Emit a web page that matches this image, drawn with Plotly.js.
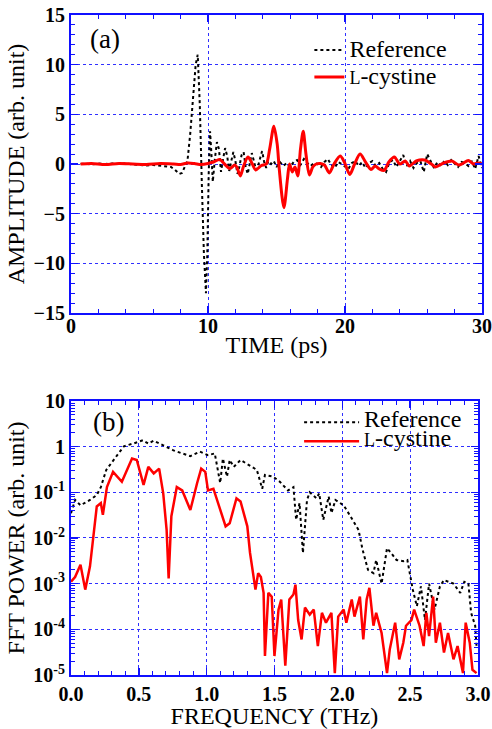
<!DOCTYPE html>
<html><head><meta charset="utf-8">
<script src="https://cdn.plot.ly/plotly-3.0.1.min.js"></script>
<style>html,body{margin:0;padding:0;background:#fff}#chart{width:492px;height:729px}</style>
</head><body><div id="chart"></div>
<script>
// ---- Panel (a): time-domain waveforms ----
const timeRef = [0.7,1,1.5,2,2.5,3,3.5,4,4.5,5,5.5,6,6.5,7,7.3,7.6,7.9,8.1,8.3,8.5,8.7,8.9,9.1,9.25,9.4,9.55,9.7,9.85,9.95,10.05,10.15,10.25,10.35,10.5,10.65,10.8,10.95,11.1,11.25,11.4,11.55,11.7,11.85,12.0,12.15,12.3,12.45,12.6,12.75,12.9,13.05,13.2,13.35,13.5,13.65,13.8,13.95,14.1,14.25,14.4,14.6,14.8,15.0,15.25,15.5,15.75,16.0,16.25,16.5,16.75,17.0,17.25,17.5,17.75,18.0,18.25,18.5,18.75,19.0,19.25,19.5,19.75,20.0,20.25,20.5,20.75,21.0,21.25,21.5,21.75,22.0,22.25,22.5,22.75,23.0,23.25,23.5,23.75,24.0,24.25,24.5,24.75,25.0,25.25,25.5,25.75,26.0,26.25,26.5,26.75,27.0,27.25,27.5,27.75,28.0,28.25,28.5,28.75,29.0,29.25,29.5,29.75,30.0];
const ampRef = [0,0.05,-0.05,0.05,0,0.05,0,0.05,-0.05,-0.1,-0.15,-0.1,-0.15,-0.2,-0.3,-0.6,-1.0,-0.9,-0.3,0.3,3,7,10,11,6,-2,-9,-13,-9,-1,3.3,1,-1.8,0.5,2.2,1.5,-0.8,0.5,1.6,0.8,-0.7,0.3,1.2,0.3,-1.0,-0.2,0.9,1.2,-0.3,-1.0,0.2,1.1,0.3,-0.6,-0.2,0.6,1.3,0.2,-0.4,0.3,0,0.3,-0.3,0.2,-0.2,0.1,-0.3,0.2,0.4,-0.1,0.5,0.1,-0.2,0.1,0,-0.3,0.2,0.5,-0.1,-0.4,0.2,0,-0.3,-0.5,0.1,0.3,-0.2,0.2,-0.4,0.1,0.3,-0.2,0.1,-0.5,-0.8,0.2,0.4,-0.3,0.3,0.9,-0.2,0.3,-0.4,0.1,0.3,-0.8,1.0,0.3,-0.4,0.2,-0.2,0.3,-0.1,0.4,0,-0.3,0.2,0.1,-0.2,0.3,-0.5,0.8,-0.4];
const timeCys = [0.7,1.5,2.5,3.5,4.5,5.5,6.5,7.5,8,8.5,9,9.5,10,10.4,10.85,11.2,11.6,11.95,12.1,12.36,12.6,12.92,13.2,13.48,13.9,14.25,14.5,14.81,15.05,15.2,15.54,15.8,15.95,16.15,16.35,16.55,16.75,16.95,17.15,17.4,17.65,17.9,18.2,18.5,18.85,19.2,19.65,19.95,20.35,20.7,21.1,21.5,21.9,22.2,22.5,22.85,23.2,23.6,24.0,24.4,24.7,25.2,25.8,26.3,26.6,27.2,27.8,28.3,28.6,29.0,29.4,29.7,30];
const ampCys = [0,0.05,-0.05,0.05,0,-0.05,0.05,0,-0.05,0.1,0.05,-0.05,0.05,0.2,0.45,0,-0.45,-0.1,-0.3,-1.2,-0.2,0.7,0.1,-0.6,-0.15,0,1.5,3.8,2.0,-0.5,-4.4,-1.5,0,-0.8,-0.3,-1.2,1.5,3.3,1.0,-1.1,-0.3,0,0.05,-0.1,-0.9,0,0.8,0.2,-1.05,0,1.0,0.2,-0.55,-0.2,-0.5,-0.65,0.2,0.7,0,0.3,-0.2,0.3,0.4,0,-0.3,0.1,0.3,-0.1,0.05,0.35,0,0.1,0];

// ---- Panel (b): FFT power spectra ----
const freqRef = [0,0.03,0.07,0.14,0.19,0.22,0.26,0.33,0.39,0.46,0.53,0.57,0.61,0.68,0.755,0.82,0.88,0.95,1.01,1.06,1.10,1.12,1.15,1.17,1.20,1.25,1.31,1.37,1.41,1.43,1.49,1.54,1.60,1.64,1.66,1.685,1.71,1.74,1.76,1.81,1.83,1.86,1.90,1.92,1.95,2.01,2.06,2.12,2.15,2.19,2.23,2.25,2.29,2.33,2.36,2.40,2.45,2.48,2.52,2.55,2.58,2.61,2.64,2.68,2.72,2.75,2.82,2.87,2.90,2.93,2.95,2.98,2.99];
const powRef = [3.5e-2,6.8e-2,5.2e-2,6.8e-2,8.7e-2,0.13,0.31,0.60,1.02,1.17,1.38,1.17,1.35,1.07,0.83,0.71,0.62,0.78,0.65,0.71,0.16,0.55,0.22,0.51,0.36,0.51,0.40,0.31,0.12,0.24,0.22,0.17,0.11,0.13,0.025,0.058,0.0047,0.068,0.10,0.074,0.095,0.025,0.081,0.035,0.068,0.052,0.030,0.015,0.0055,0.0020,0.0017,0.0033,0.0010,0.0060,0.0047,0.0033,0.0031,0.0033,7.4e-4,3.2e-4,8.7e-4,1.6e-4,1.0e-3,2.7e-4,8.7e-4,1.2e-3,1.0e-3,6.3e-4,1.1e-3,1.0e-3,2.3e-4,1.2e-4,4.3e-5];
const freqCys = [0,0.03,0.07,0.105,0.14,0.19,0.22,0.235,0.265,0.31,0.375,0.45,0.485,0.535,0.57,0.61,0.65,0.68,0.705,0.72,0.74,0.78,0.82,0.88,0.93,0.96,0.99,1.01,1.05,1.10,1.14,1.17,1.22,1.25,1.30,1.32,1.36,1.38,1.40,1.42,1.43,1.455,1.48,1.50,1.53,1.55,1.58,1.61,1.64,1.655,1.675,1.70,1.725,1.76,1.79,1.82,1.85,1.88,1.92,1.945,1.97,2.01,2.03,2.07,2.09,2.13,2.155,2.18,2.20,2.23,2.25,2.29,2.33,2.35,2.39,2.42,2.45,2.47,2.51,2.53,2.57,2.60,2.62,2.64,2.67,2.69,2.72,2.75,2.78,2.82,2.85,2.89,2.91,2.94,2.96,2.99];
const powCys = [1.1e-3,1.4e-3,2.6e-3,7.4e-4,2.4e-3,4.9e-2,5.8e-2,3.2e-2,0.13,0.28,0.17,0.55,0.51,0.145,0.36,0.26,0.33,0.095,0.015,1.3e-3,0.030,0.13,0.11,0.041,0.16,0.33,0.28,0.11,0.12,0.041,0.018,0.021,0.074,0.063,0.018,4.7e-3,7.4e-4,1.7e-3,1.4e-3,6.3e-4,2.6e-5,6.3e-4,5.2e-4,2.6e-5,2.7e-4,4.5e-4,1.6e-5,4.5e-4,5.8e-4,9.5e-4,1.6e-4,6.0e-5,3.0e-4,2.1e-4,2.7e-4,4.3e-5,2.3e-4,1.4e-4,2.3e-4,1.1e-5,1.9e-4,2.7e-4,1.4e-4,4.5e-4,1.9e-4,5.2e-4,6.0e-5,4.5e-4,8.1e-4,1.2e-4,2.3e-4,8.3e-5,1.1e-5,3.6e-5,1.4e-4,2.2e-5,5.1e-5,1.2e-4,1.6e-4,2.7e-4,1.2e-4,4.3e-5,2.3e-4,7.1e-5,5.2e-4,5.1e-5,1.4e-4,3.1e-5,8.3e-5,2.2e-5,4.3e-5,1.1e-5,1.4e-4,5.1e-5,1.3e-5,1.1e-5];

// ---- labels & ticks ----
const seriesRef = 'Reference';
const seriesCysHtml = '<span style="font-size:18px">L</span>-cystine';
const ampTicks = [-15,-10,-5,0,5,10,15];
const timeTicks = [0,10,20,30];
const freqTicks = [0,0.5,1.0,1.5,2.0,2.5,3.0];
const freqTickText = ['0.0','0.5','1.0','1.5','2.0','2.5','3.0'];
const powTicks = [1e-5,1e-4,1e-3,1e-2,1e-1,1,10];
const powTickText = ['10<sup>-5</sup>','10<sup>-4</sup>','10<sup>-3</sup>','10<sup>-2</sup>','10<sup>-1</sup>','1','10'];

const BLUE = '#1010ff';
const FONT = 'Liberation Serif, serif';
function axisStyle(extra){
  return Object.assign({
    showline:true, linecolor:BLUE, linewidth:2, mirror:'allticks',
    ticks:'inside', ticklen:7, tickwidth:1.5, tickcolor:BLUE,
    showgrid:true, gridcolor:'#3030ff', griddash:'dot', gridwidth:1,
    zeroline:false,
    tickfont:{family:FONT, size:20, weight:'bold', color:'#000'}
  }, extra);
}
function minor(extra){
  return Object.assign({ticks:'inside', ticklen:4, tickwidth:1, tickcolor:BLUE, showgrid:false}, extra);
}

const traces = [
  {x:timeRef, y:ampRef, xaxis:'x', yaxis:'y', mode:'lines', name:'<span style="font-size:24px">'+seriesRef+'</span>',
   line:{color:'#000', width:2, dash:'dot'}, legend:'legend'},
  {x:timeCys, y:ampCys, xaxis:'x', yaxis:'y', mode:'lines', name:'<span style="font-size:24px">'+seriesCysHtml+'</span>',
   line:{color:'#ff0000', width:3, shape:'spline', smoothing:0.8}, legend:'legend'},
  {x:freqRef, y:powRef, xaxis:'x2', yaxis:'y2', mode:'lines', name:'<span style="font-size:24px">'+seriesRef+'</span>',
   line:{color:'#000', width:2, dash:'dot'}, legend:'legend2'},
  {x:freqCys, y:powCys, xaxis:'x2', yaxis:'y2', mode:'lines', name:'<span style="font-size:24px">'+seriesCysHtml+'</span>',
   line:{color:'#ff0000', width:2.5}, legend:'legend2'}
];

const layout = {
  width:492, height:729,
  paper_bgcolor:'#fff', plot_bgcolor:'#fff',
  margin:{l:71, r:10, t:15, b:54},
  font:{family:FONT, color:'#000'},
  showlegend:true,
  xaxis: axisStyle({domain:[0,1], anchor:'y', range:[0,30], tickvals:timeTicks, ticklabelstandoff:-6,
    minor:minor({dtick:2}),
    title:{text:'TIME (ps)', font:{family:FONT, size:24}, standoff:0}}),
  yaxis: axisStyle({domain:[0.5485,1], anchor:'x', range:[-15,15], tickvals:ampTicks,
    minor:minor({dtick:1}),
    title:{text:'AMPLITUDE (arb. unit)', font:{family:FONT, size:24}, standoff:2}}),
  xaxis2: axisStyle({domain:[0,0.99], anchor:'y2', range:[0,3], tickvals:freqTicks, ticktext:freqTickText,
    minor:minor({dtick:0.1}),
    title:{text:'FREQUENCY (THz)', font:{family:FONT, size:24}, standoff:0}}),
  yaxis2: axisStyle({domain:[0,0.4152], anchor:'x2', type:'log', range:[-5,1], tickvals:powTicks, ticktext:powTickText,
    minor:minor({dtick:'D1'}),
    title:{text:'FFT POWER (arb. unit)', font:{family:FONT, size:24}, standoff:2}}),
  legend:{x:0.58, y:0.975, xanchor:'left', yanchor:'top', bgcolor:'rgba(0,0,0,0)',
    font:{family:FONT, size:18.5, color:'#000'}, itemwidth:30},
  legend2:{x:0.555, y:0.405, xanchor:'left', yanchor:'top', bgcolor:'rgba(0,0,0,0)',
    font:{family:FONT, size:12.3, color:'#000'}, itemwidth:55},
  annotations:[
    {text:'(a)', xref:'paper', yref:'paper', x:0.041, y:0.9636, xanchor:'left', yanchor:'middle', showarrow:false,
     font:{family:FONT, size:27, color:'#000'}},
    {text:'(b)', xref:'paper', yref:'paper', x:0.048, y:0.3833, xanchor:'left', yanchor:'middle', showarrow:false,
     font:{family:FONT, size:27, color:'#000'}}
  ]
};

Plotly.newPlot('chart', traces, layout, {staticPlot:true, displayModeBar:false});
</script>
</body></html>
